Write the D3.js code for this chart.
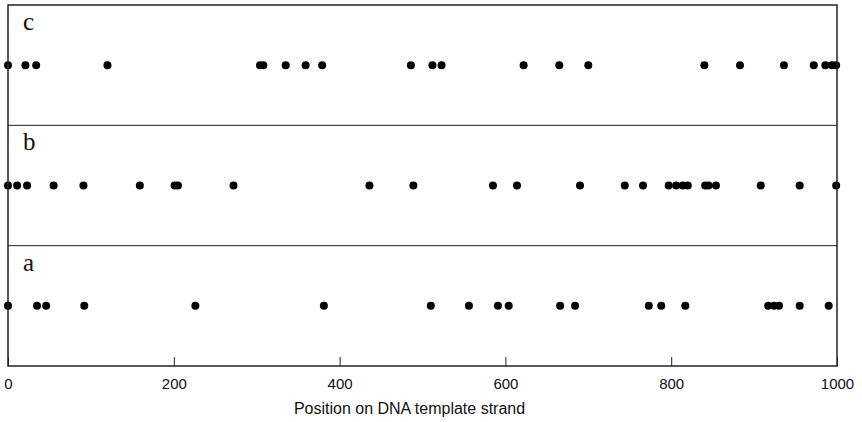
<!DOCTYPE html>
<html>
<head>
<meta charset="utf-8">
<script src="https://d3js.org/d3.v7.min.js"></script>
<style>
  html, body { margin: 0; padding: 0; background: #fff; }
  svg { display: block; }
</style>
</head>
<body>
<div id="chart"></div>
<script>
// Panels, top to bottom
const panels = ['c', 'b', 'a'];

// Positions on the template strand
const posC = [0, 21, 34, 120, 304, 308, 335, 359, 379, 486, 512, 523, 622, 665, 700, 840, 883, 936, 972, 986, 994, 999];
const posB = [0, 11, 23, 55, 91, 159, 201, 205, 272, 436, 489, 585, 614, 690, 744, 766, 797, 806, 814, 820, 841, 845, 854, 908, 955, 999];
const posA = [0, 35, 46, 92, 226, 381, 510, 556, 591, 604, 666, 684, 773, 788, 817, 917, 924, 930, 955, 990];

const xTicks = [0, 200, 400, 600, 800, 1000];
const xTitle = 'Position on DNA template strand';

const series = { c: posC, b: posB, a: posA };

const width = 862, height = 422;
const margin = { top: 5, right: 25, bottom: 56, left: 8 };
const innerW = width - margin.left - margin.right;
const innerH = height - margin.top - margin.bottom;

const svg = d3.select('#chart').append('svg')
  .attr('width', width)
  .attr('height', height);

const g = svg.append('g')
  .attr('transform', 'translate(' + margin.left + ',' + margin.top + ')');

const x = d3.scaleLinear().domain([0, 1000]).range([0, innerW]);
const band = d3.scaleBand().domain(panels).range([0, innerH]).padding(0);

// Panel separators
g.selectAll('line.sep')
  .data(panels.slice(1))
  .join('line')
  .attr('class', 'sep')
  .attr('x1', 0).attr('x2', innerW)
  .attr('y1', d => band(d)).attr('y2', d => band(d))
  .attr('stroke', '#222')
  .attr('stroke-width', 1);

// Panel labels
g.selectAll('text.plab')
  .data(panels)
  .join('text')
  .attr('class', 'plab')
  .attr('x', 15)
  .attr('y', d => band(d) + 25)
  .attr('font-family', '"Liberation Serif", "Times New Roman", serif')
  .attr('font-size', '25px')
  .attr('fill', '#111')
  .text(d => d);

// Dots
panels.forEach(p => {
  const cy = band(p) + band.bandwidth() / 2;
  g.append('g')
    .selectAll('circle')
    .data(series[p])
    .join('circle')
    .attr('cx', d => x(d))
    .attr('cy', cy)
    .attr('r', 4)
    .attr('fill', '#000');
});

// Bottom axis with inward ticks
const axis = g.append('g')
  .attr('transform', 'translate(0,' + innerH + ')')
  .call(d3.axisBottom(x).tickValues(xTicks).tickFormat(d3.format('d'))
    .tickSizeInner(-9).tickSizeOuter(0).tickPadding(12));
axis.select('.domain').remove();
axis.selectAll('.tick line').attr('stroke', '#222').attr('stroke-width', 1);
axis.selectAll('.tick text')
  .attr('font-family', '"Liberation Sans", Arial, sans-serif')
  .attr('font-size', '15px')
  .attr('fill', '#111');

// Frame
g.append('rect')
  .attr('x', 0).attr('y', 0)
  .attr('width', innerW).attr('height', innerH)
  .attr('fill', 'none')
  .attr('stroke', '#222')
  .attr('stroke-width', 1.5);

// Axis title (sits a little left of the plot centre in the original)
g.append('text')
  .attr('x', innerW / 2 - 13)
  .attr('y', innerH + 48)
  .attr('text-anchor', 'middle')
  .attr('font-family', '"Liberation Sans", Arial, sans-serif')
  .attr('font-size', '16px')
  .attr('fill', '#111')
  .text(xTitle);
</script>
</body>
</html>
